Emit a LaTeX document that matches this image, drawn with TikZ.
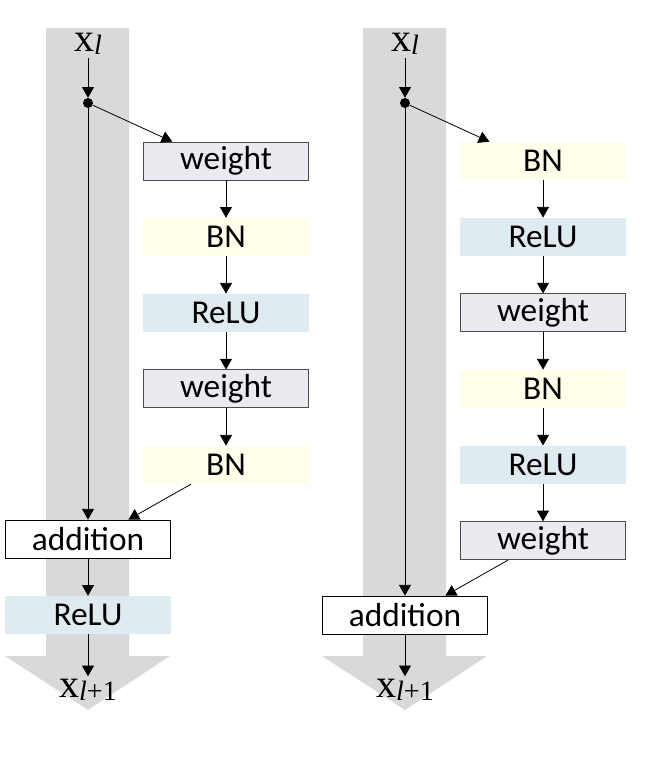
\documentclass[tikz,border=0pt]{standalone}
\usepackage{fontspec}
\setmainfont{Carlito}
\newfontfamily\serifx{Liberation Serif}
\usetikzlibrary{positioning,arrows.meta}

\definecolor{bandgray}{RGB}{217,217,217}
\definecolor{weightfill}{RGB}{236,233,241}
\definecolor{bnfill}{RGB}{255,255,234}
\definecolor{relufill}{RGB}{222,235,241}

% x_l style labels
\newcommand{\xlab}[1]{{\serifx\fontsize{30}{34}\selectfont x\raisebox{-2.5pt}{\fontsize{21}{24}\selectfont #1}}}

\tikzset{
    band/.style={fill=bandgray},
    layer/.style={minimum width=124pt, minimum height=28.5pt, inner sep=0pt,
        font=\fontsize{25}{29}\selectfont},
    weightbox/.style={layer, fill=weightfill, draw=black!70, line width=0.6pt},
    bnbox/.style={layer, fill=bnfill},
    relubox/.style={layer, fill=relufill},
    addbox/.style={layer, fill=white, draw=black, line width=0.6pt},
    splitdot/.style={circle, fill=black, inner sep=0pt, minimum size=7.5pt},
    xnode/.style={inner sep=2pt},
    flow/.style={-{Triangle[length=8pt,width=9pt]}, line width=0.6pt},
}

\begin{document}
\begin{tikzpicture}[x=0.75pt, y=-0.75pt, node distance=28pt]
    \useasboundingbox (0,0) rectangle (654,758);

    % Original unit
    \begin{scope}
        \fill[band] (46,28) -- (129,28) -- (129,656) -- (170,656) -- (88,710) -- (5,656) -- (46,656) -- cycle;

        \node[xnode] (inA) at (88,44) {\xlab{\itshape l}};
        \node[splitdot] (splitA) at (88,103) {};

        \node[weightbox] (wA1) at (226,161) {weight};
        \node[bnbox, below=of wA1] (bnA1) {BN};
        \node[relubox, below=of bnA1] (reluA1) {ReLU};
        \node[weightbox, below=of reluA1] (wA2) {weight};
        \node[bnbox, below=of wA2] (bnA2) {BN};

        \node[addbox] (addA) at (88,539) {addition};
        \node[relubox, below=of addA] (reluA2) {ReLU};
        \node[xnode] (outA) at (88,690) {\xlab{\itshape l\upshape +1}};

        \draw[flow] (inA) -- (splitA);
        \draw[flow] (splitA) -- ([xshift=22pt]wA1.north west);
        \draw[flow] (wA1) -- (bnA1);
        \draw[flow] (bnA1) -- (reluA1);
        \draw[flow] (reluA1) -- (wA2);
        \draw[flow] (wA2) -- (bnA2);
        \draw[flow] (splitA) -- (addA);
        \draw[flow] ([xshift=36pt]bnA2.south west) -- ([xshift=-32pt]addA.north east);
        \draw[flow] (addA) -- (reluA2);
        \draw[flow] (reluA2) -- (outA);
    \end{scope}

    % Pre-activation unit
    \begin{scope}[xshift=237.75pt]
        \fill[band] (46,28) -- (129,28) -- (129,656) -- (170,656) -- (88,710) -- (5,656) -- (46,656) -- cycle;

        \node[xnode] (inB) at (88,44) {\xlab{\itshape l}};
        \node[splitdot] (splitB) at (88,103) {};

        \node[bnbox] (bnB1) at (226,161) {BN};
        \node[relubox, below=of bnB1] (reluB1) {ReLU};
        \node[weightbox, below=of reluB1] (wB1) {weight};
        \node[bnbox, below=of wB1] (bnB2) {BN};
        \node[relubox, below=of bnB2] (reluB2) {ReLU};
        \node[weightbox, below=of reluB2] (wB2) {weight};

        \node[addbox] (addB) at (88,615) {addition};
        \node[xnode] (outB) at (88,690) {\xlab{\itshape l\upshape +1}};

        \draw[flow] (inB) -- (splitB);
        \draw[flow] (splitB) -- ([xshift=22pt]bnB1.north west);
        \draw[flow] (bnB1) -- (reluB1);
        \draw[flow] (reluB1) -- (wB1);
        \draw[flow] (wB1) -- (bnB2);
        \draw[flow] (bnB2) -- (reluB2);
        \draw[flow] (reluB2) -- (wB2);
        \draw[flow] (splitB) -- (addB);
        \draw[flow] ([xshift=36pt]wB2.south west) -- ([xshift=-32pt]addB.north east);
        \draw[flow] (addB) -- (outB);
    \end{scope}
\end{tikzpicture}
\end{document}
